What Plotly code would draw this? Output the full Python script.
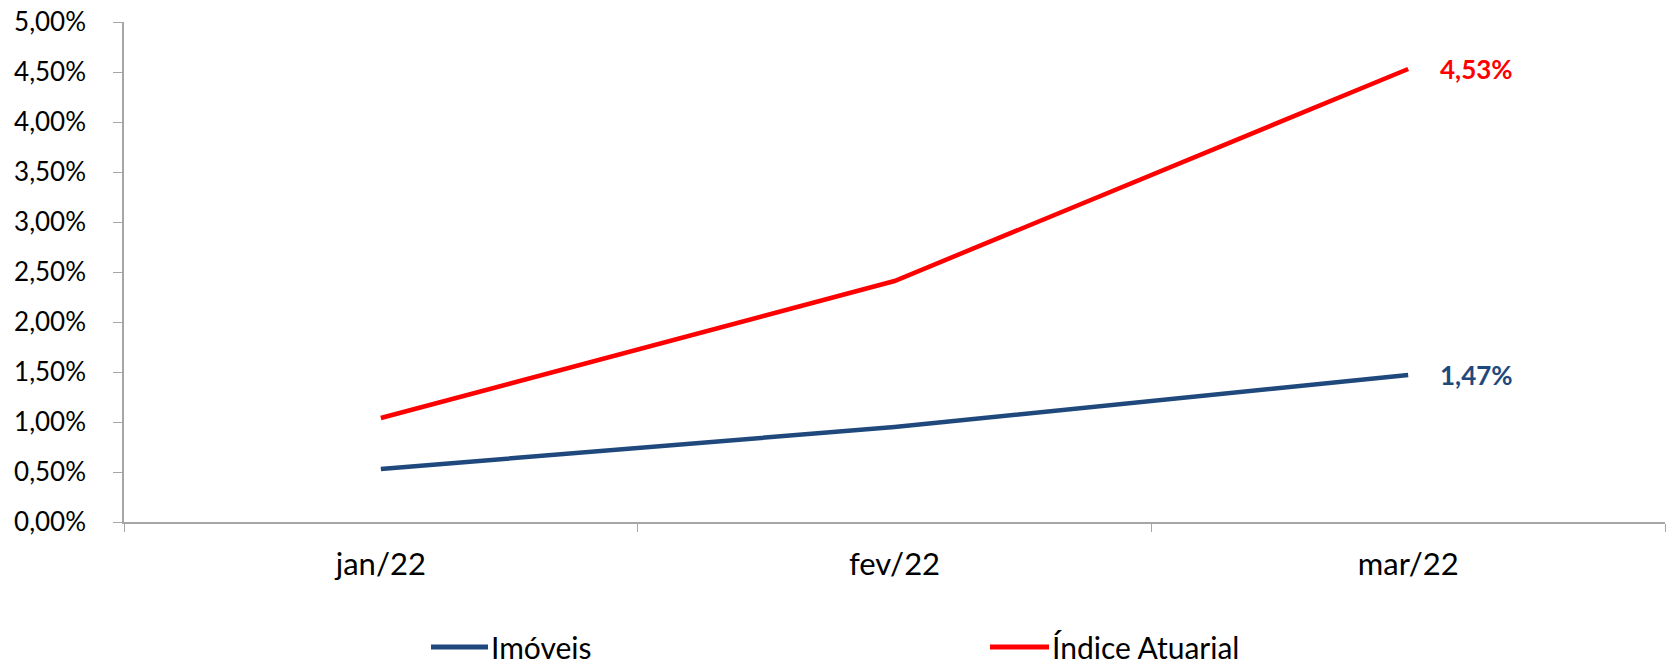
import plotly.graph_objects as go

categories = ["jan/22", "fev/22", "mar/22"]
imoveis = [0.53, 0.95, 1.47]
indice_atuarial = [1.04, 2.41, 4.53]
series_names = ["Imóveis", "Índice Atuarial"]
y_ticks = [0.0, 0.5, 1.0, 1.5, 2.0, 2.5, 3.0, 3.5, 4.0, 4.5, 5.0]

BLUE = "#1F497D"
RED = "#FF0000"
FONT = "Lato"
AXIS_GRAY = "#A6A6A6"

W, H = 1670, 665
ML, MR, MT, MB = 124, 5, 22, 143
PW = W - ML - MR
PH = H - MT - MB


def fmt(v):
    return f"{v:.2f}".replace(".", ",") + "%"


def px_x(p):
    return (p - ML) / PW


def px_y(p):
    return (H - MB - p) / PH


fig = go.Figure()
series = [(imoveis, BLUE), (indice_atuarial, RED)]
for (vals, col), name in zip(series, series_names):
    fig.add_trace(go.Scatter(x=categories, y=vals, name=name, mode="lines",
                             line=dict(color=col, width=4.5), hoverinfo="skip",
                             showlegend=False))
    fig.add_annotation(x=categories[-1], y=vals[-1], text="<b>" + fmt(vals[-1]) + "</b>",
                       showarrow=False, xanchor="left", yanchor="middle", xshift=30,
                       font=dict(family=FONT, size=26, color=col))

# legend (drawn manually to match the long legend keys)
legend_pos = [(431, 488), (990, 1049)]
legend_y = 647
for (x0, x1), (vals, col), name in zip(legend_pos, series, series_names):
    fig.add_shape(type="line", xref="paper", yref="paper",
                  x0=px_x(x0), x1=px_x(x1), y0=px_y(legend_y), y1=px_y(legend_y),
                  line=dict(color=col, width=5))
    fig.add_annotation(xref="paper", yref="paper", x=px_x(x1 + 1), y=px_y(legend_y),
                       text=name, showarrow=False, xanchor="left", yanchor="middle",
                       font=dict(family=FONT, size=30, color="black"))

fig.update_layout(
    width=W, height=H,
    margin=dict(l=ML, r=MR, t=MT, b=MB),
    paper_bgcolor="white", plot_bgcolor="white",
    font=dict(family=FONT, size=28, color="black"),
    showlegend=False,
    hovermode=False,
    xaxis=dict(range=[-0.5, 2.5], showline=True, linecolor=AXIS_GRAY, linewidth=1.5,
               ticks="outside", tickson="boundaries", ticklen=8, tickcolor=AXIS_GRAY,
               showgrid=False, zeroline=False, ticklabelstandoff=14, automargin=False,
               tickfont=dict(family=FONT, size=31, color="black")),
    yaxis=dict(range=[0, 5], tickvals=y_ticks, ticktext=[fmt(v) for v in y_ticks],
               showline=True, linecolor=AXIS_GRAY, linewidth=1.5,
               ticks="outside", ticklen=9, tickcolor=AXIS_GRAY, showgrid=False,
               zeroline=False, ticklabelstandoff=22, automargin=False,
               ticklabeloverflow="allow",
               tickfont=dict(family=FONT, size=26, color="black")),
)

fig.write_html("out.html", config={"displayModeBar": False},
               post_script="document.body.style.margin='0';document.body.style.padding='0';")
